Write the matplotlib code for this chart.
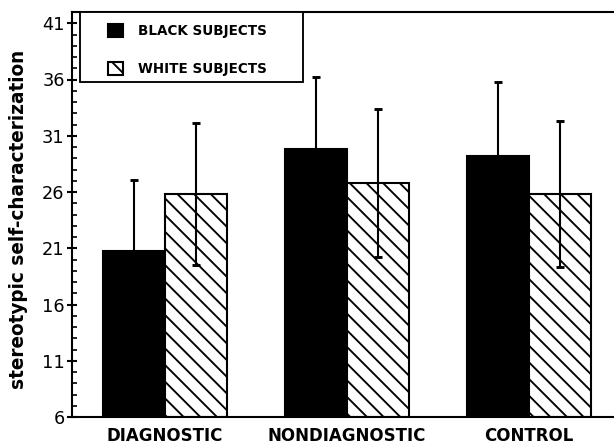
import matplotlib
matplotlib.use("Agg")
import matplotlib.pyplot as plt
import numpy as np
from matplotlib.patches import Patch, Rectangle
from matplotlib.ticker import MultipleLocator

categories = ["DIAGNOSTIC", "NONDIAGNOSTIC", "CONTROL"]
black_means = [20.8, 29.8, 29.2]
black_sd = [6.3, 6.4, 6.6]
white_means = [25.8, 26.8, 25.8]
white_sd = [6.3, 6.6, 6.5]
yticks = [6, 11, 16, 21, 26, 31, 36, 41]
series_labels = ["BLACK SUBJECTS", "WHITE SUBJECTS"]

DPI = 150
HATCH = '\\\\\\'
plt.rcParams['font.family'] = ['DejaVu Sans']
plt.rcParams['hatch.linewidth'] = 0.9

fig = plt.figure(figsize=(614 / DPI, 447 / DPI), dpi=DPI)
ax = fig.add_axes([72 / 614, 30 / 447, 542 / 614, 405 / 447])

x = np.arange(len(categories))
w = 0.34
base = 6
bh = [m - base for m in black_means]
wh = [m - base for m in white_means]

ax.bar(x - w / 2, bh, w, bottom=base, color='black', edgecolor='black', linewidth=1.0)
ax.bar(x + w / 2, wh, w, bottom=base, color='white', edgecolor='black', linewidth=1.0,
       hatch=HATCH)
ax.errorbar(x - w / 2, black_means, yerr=black_sd, fmt='none', ecolor='black',
            elinewidth=1.0, capsize=2.0, capthick=1.4)
ax.errorbar(x + w / 2, white_means, yerr=white_sd, fmt='none', ecolor='black',
            elinewidth=1.0, capsize=2.0, capthick=1.4)

ax.set_xlim(-0.511, 2.467)
ax.set_ylim(6, 42.0)
ax.set_yticks(yticks)
ax.set_yticklabels([str(t) for t in yticks], fontsize=8.5)
ax.yaxis.set_minor_locator(MultipleLocator(1))
ax.tick_params(axis='y', which='major', direction='inout', length=5, width=1.0, pad=1)
ax.tick_params(axis='y', which='minor', direction='in', length=2.5, width=0.8)
ax.set_xticks(x)
ax.set_xticklabels(categories, fontsize=8, fontweight='bold')
ax.tick_params(axis='x', length=0, pad=5)

for s in ['left', 'bottom', 'top']:
    ax.spines[s].set_linewidth(1.0)
ax.spines['right'].set_visible(False)

ax.set_ylabel("stereotypic self-characterization", fontsize=8.9, fontweight='bold')
ax.yaxis.set_label_coords(-0.081, 0.489)

# legend frame
ax.add_patch(Rectangle((0.015, 0.827), 0.411, 0.173, transform=ax.transAxes,
                       facecolor='white', edgecolor='black', linewidth=0.9,
                       zorder=4, clip_on=False))
handles = [Patch(facecolor='black', edgecolor='black'),
           Patch(facecolor='white', edgecolor='black', hatch='\\\\', linewidth=1.0)]
leg = ax.legend(handles, series_labels, loc='upper left',
                bbox_to_anchor=(0.0664, 0.970), borderaxespad=0, borderpad=0,
                frameon=False, prop={'size': 6.5, 'weight': 'bold'},
                handlelength=1.1, handleheight=1.1, labelspacing=1.75,
                handletextpad=1.1)
leg.set_zorder(5)

fig.savefig("out.png", dpi=DPI)
